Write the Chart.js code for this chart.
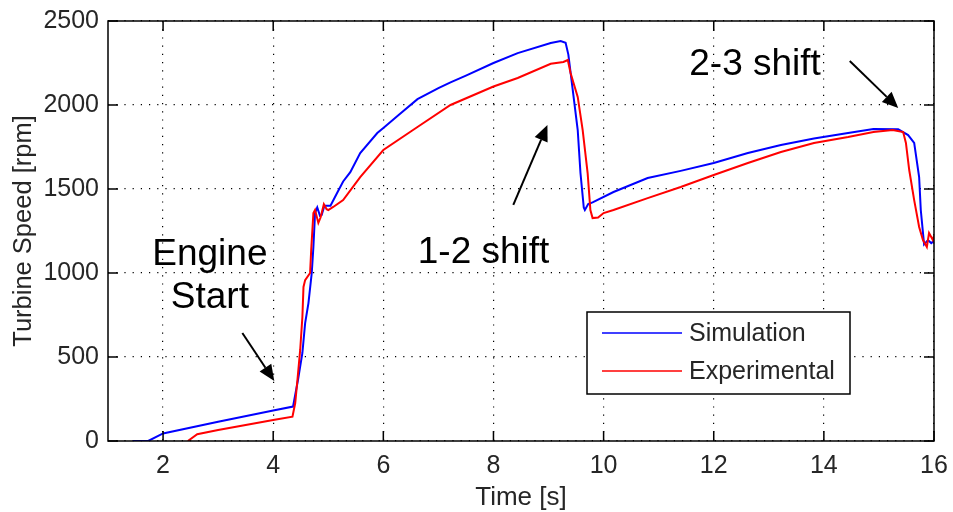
<!DOCTYPE html>
<html><head><meta charset="utf-8">
<script src="https://cdn.jsdelivr.net/npm/chart.js@4.4.1/dist/chart.umd.min.js"></script>
<style>html,body{margin:0;padding:0;background:#fff;}#wrap{width:953px;height:512px;}</style>
</head><body><div id="wrap"><canvas id="c" width="953" height="512"></canvas></div>
<script>
const simTime  = [1.45,1.73,2.0,3.0,4.0,4.36,4.45,4.53,4.58,4.64,4.70,4.73,4.76,4.80,4.85,4.88,4.93,5.04,5.16,5.27,5.40,5.58,5.89,6.0,6.31,6.62,7.0,7.22,7.5,8.0,8.44,9.04,9.22,9.31,9.36,9.44,9.53,9.58,9.64,9.66,9.72,9.8,10.18,10.8,11.4,12.0,12.62,13.22,13.82,14.44,14.9,15.35,15.53,15.64,15.73,15.76,15.82,15.89,15.95,16.0];
const simSpeed = [0,0,45,115,182,205,363,524,702,821,1000,1155,1357,1390,1340,1345,1400,1400,1476,1545,1600,1714,1833,1863,1950,2035,2100,2135,2175,2250,2309,2369,2381,2370,2300,2089,1851,1595,1390,1375,1410,1420,1482,1565,1608,1655,1714,1762,1800,1833,1857,1855,1821,1774,1571,1375,1170,1196,1178,1190];
const expTime  = [2.45,2.62,3.0,3.5,4.0,4.35,4.40,4.44,4.49,4.53,4.55,4.58,4.67,4.69,4.73,4.76,4.82,4.86,4.92,4.97,5.0,5.09,5.27,5.58,6.0,6.62,7.22,8.0,8.44,9.04,9.27,9.35,9.40,9.53,9.62,9.71,9.76,9.8,9.9,10.0,10.18,10.8,11.4,12.0,12.62,13.22,13.82,14.44,14.9,15.25,15.44,15.49,15.55,15.64,15.73,15.8,15.87,15.91,15.98,16.0];
const expSpeed = [0,40,65,95,125,145,226,363,542,738,917,958,1000,1137,1357,1375,1298,1330,1410,1380,1375,1393,1434,1571,1732,1869,2000,2110,2161,2245,2256,2268,2190,2048,1851,1595,1375,1327,1330,1357,1375,1446,1512,1583,1655,1720,1774,1809,1839,1851,1839,1774,1613,1434,1274,1196,1155,1238,1196,1220];
const xTicks = [2,4,6,8,10,12,14,16];
const yTicks = [0,500,1000,1500,2000,2500];
const seriesNames = ['Simulation','Experimental'];
const seriesColors = ['#0000ff','#ff0000'];
const noteTexts = ['Engine','Start','1-2 shift','2-3 shift'];
const noteX = [2.85,2.85,7.82,12.75];
const noteY = [1107,851,1119,2238];
const arrowFromX = [3.44,8.36,14.47];
const arrowFromY = [643,1405,2262];
const arrowToX = [4.02,8.98,15.35];
const arrowToY = [357,1881,1982];

const FONT = "'Liberation Sans', Arial, Helvetica, sans-serif";
const TXT = '#262626';

const decor = {
  id: 'decor',
  afterDraw(chart) {
    const {ctx, chartArea: a, scales: {x, y}} = chart;
    ctx.save();
    ctx.strokeStyle = '#000'; ctx.lineWidth = 1.5;
    const tl = 10;
    ctx.beginPath();
    x.ticks.forEach(t => { const px = x.getPixelForValue(t.value);
      ctx.moveTo(px, a.bottom); ctx.lineTo(px, a.bottom - tl);
      ctx.moveTo(px, a.top); ctx.lineTo(px, a.top + tl); });
    y.ticks.forEach(t => { const py = y.getPixelForValue(t.value);
      ctx.moveTo(a.left, py); ctx.lineTo(a.left + tl, py);
      ctx.moveTo(a.right, py); ctx.lineTo(a.right - tl, py); });
    ctx.stroke();
    ctx.strokeRect(a.left, a.top, a.right - a.left, a.bottom - a.top);

    const lx = a.left + 479, ly = a.top + 291, lw = 263, lh = 82;
    ctx.fillStyle = '#fff'; ctx.fillRect(lx, ly, lw, lh);
    ctx.lineWidth = 1.5; ctx.strokeStyle = '#000'; ctx.strokeRect(lx, ly, lw, lh);
    ctx.font = '25px ' + FONT; ctx.textBaseline = 'middle'; ctx.textAlign = 'left';
    chart.data.datasets.forEach((ds, i) => {
      const yy = ly + 21 + i * 38;
      ctx.strokeStyle = ds.borderColor; ctx.lineWidth = 1.5;
      ctx.beginPath(); ctx.moveTo(lx + 15, yy); ctx.lineTo(lx + 95, yy); ctx.stroke();
      ctx.fillStyle = TXT; ctx.fillText(ds.label, lx + 102, yy + 1);
    });

    ctx.fillStyle = '#000'; ctx.font = '37px ' + FONT; ctx.textAlign = 'center';
    noteTexts.forEach((t, i) => ctx.fillText(t, x.getPixelForValue(noteX[i]), y.getPixelForValue(noteY[i])));
    arrowFromX.forEach((fx, i) => {
      const x0 = x.getPixelForValue(fx), y0 = y.getPixelForValue(arrowFromY[i]);
      const x1 = x.getPixelForValue(arrowToX[i]), y1 = y.getPixelForValue(arrowToY[i]);
      const ang = Math.atan2(y1 - y0, x1 - x0);
      const hl = 16, hw = 7;
      const bx = x1 - hl * Math.cos(ang), by = y1 - hl * Math.sin(ang);
      ctx.strokeStyle = '#000'; ctx.lineWidth = 2;
      ctx.beginPath(); ctx.moveTo(x0, y0); ctx.lineTo(bx, by); ctx.stroke();
      ctx.beginPath(); ctx.moveTo(x1, y1);
      ctx.lineTo(bx + hw * Math.sin(ang), by - hw * Math.cos(ang));
      ctx.lineTo(bx - hw * Math.sin(ang), by + hw * Math.cos(ang));
      ctx.closePath(); ctx.fill();
    });
    ctx.restore();
  }
};

new Chart(document.getElementById('c'), {
  type: 'line',
  data: {
    datasets: [
      { label: seriesNames[0], data: simTime.map((t, i) => ({x: t, y: simSpeed[i]})),
        borderColor: seriesColors[0], borderWidth: 2, pointRadius: 0, tension: 0, order: 1 },
      { label: seriesNames[1], data: expTime.map((t, i) => ({x: t, y: expSpeed[i]})),
        borderColor: seriesColors[1], borderWidth: 2, pointRadius: 0, tension: 0, order: 0 }
    ]
  },
  options: {
    responsive: false, animation: false,
    layout: { padding: { top: 21, right: 19, left: 0, bottom: 0 } },
    plugins: { legend: { display: false }, tooltip: { enabled: false } },
    scales: {
      x: {
        type: 'linear', min: 1, max: 16,
        afterBuildTicks: s => { s.ticks = xTicks.map(v => ({value: v})); },
        afterFit: s => { s.height = 71; s.paddingLeft = 0; s.paddingRight = 0; },
        grid: { color: '#000', lineWidth: 1.2, drawTicks: false },
        border: { display: false, dash: [1.2, 7] },
        ticks: { padding: 10, color: TXT, font: { family: FONT, size: 25 }, maxRotation: 0, callback: v => String(v) },
        title: { display: true, text: 'Time [s]', color: TXT, font: { family: FONT, size: 26, lineHeight: 1.1 }, padding: { top: 0, bottom: 0 } }
      },
      y: {
        min: 0, max: 2500,
        afterBuildTicks: s => { s.ticks = yTicks.map(v => ({value: v})); },
        afterFit: s => { s.width = 108; s.paddingTop = 0; s.paddingBottom = 0; },
        grid: { color: '#000', lineWidth: 1.2, drawTicks: false },
        border: { display: false, dash: [1.2, 7] },
        ticks: { padding: 9, color: TXT, font: { family: FONT, size: 25 }, callback: v => String(v) },
        title: { display: true, text: 'Turbine Speed [rpm]', color: TXT, font: { family: FONT, size: 25.5 }, padding: { top: 9, bottom: 0 } }
      }
    }
  },
  plugins: [decor]
});
</script></body></html>
